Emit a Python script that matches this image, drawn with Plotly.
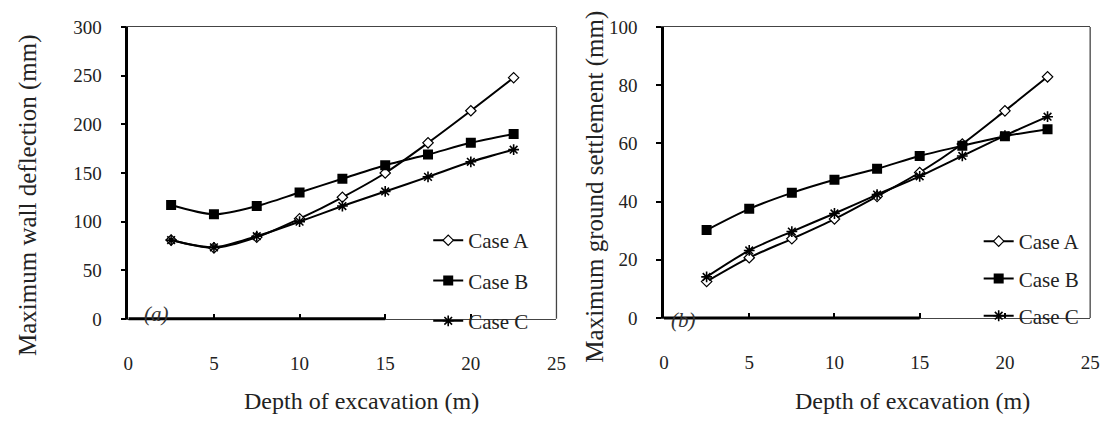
import plotly.graph_objects as go

depth = [2.5, 5, 7.5, 10, 12.5, 15, 17.5, 20, 22.5]

wall_A = [81, 73, 84, 103, 125, 150, 181, 214, 248]
wall_B = [117, 107.5, 116, 130, 144, 158, 169, 181, 190]
wall_C = [81, 73.5, 85, 100, 116, 131, 146, 161.5, 174]

settle_A = [12.5, 20.7, 27.2, 34, 41.8, 50, 59.8, 71.2, 82.9]
settle_B = [30.2, 37.5, 43, 47.5, 51.3, 55.7, 59.2, 62.5, 64.9]
settle_C = [14.1, 23.2, 29.7, 35.9, 42.4, 48.7, 55.7, 62.7, 69.2]

case_names = ["Case A", "Case B", "Case C"]
x_ticks = [0, 5, 10, 15, 20, 25]
wall_ticks = [0, 50, 100, 150, 200, 250, 300]
settle_ticks = [0, 20, 40, 60, 80, 100]

W, H = 1112, 423
FONT = "Liberation Serif"
TXT = "#222"

def px(x):
    return x / W

def py(y):
    return 1 - y / H

markers = [
    dict(symbol="diamond", size=8, color="white", line=dict(color="black", width=1.2)),
    dict(symbol="square", size=10, color="black", line=dict(color="black", width=0)),
    dict(symbol="asterisk-open", size=9, color="black", line=dict(color="black", width=1.6)),
]

fig = go.Figure()

for i, (name, ys) in enumerate(zip(case_names, [wall_A, wall_B, wall_C])):
    fig.add_trace(go.Scatter(
        x=depth, y=ys, name=name, mode="lines+markers",
        line=dict(color="black", width=2, shape="spline", smoothing=0.8),
        marker=markers[i], xaxis="x", yaxis="y", legend="legend",
        legendgroup="a" + name,
    ))
for i, (name, ys) in enumerate(zip(case_names, [settle_A, settle_B, settle_C])):
    fig.add_trace(go.Scatter(
        x=depth, y=ys, name=name, mode="lines+markers",
        line=dict(color="black", width=2, shape="spline", smoothing=0.8),
        marker=markers[i], xaxis="x2", yaxis="y2", legend="legend2",
        legendgroup="b" + name,
    ))

xcommon = dict(
    range=[0, 25], tickvals=x_ticks, ticks="inside", ticklen=5, tickwidth=1.5,
    tickcolor="black", showline=True, linecolor="#444", linewidth=1.3, mirror=True,
    showgrid=False, zeroline=False, tickfont=dict(family=FONT, size=19, color=TXT),
    ticklabelstandoff=27,
)
ycommon = dict(
    ticks="outside", ticklen=5, tickwidth=1.5, tickcolor="black",
    showline=True, linecolor="black", linewidth=2.5, mirror=False,
    showgrid=False, zeroline=False, tickfont=dict(family=FONT, size=19, color=TXT),
    ticklabelstandoff=15,
)

fig.update_layout(
    width=W, height=H, autosize=False,
    margin=dict(l=0, r=0, t=0, b=0),
    paper_bgcolor="white", plot_bgcolor="white",
    font=dict(family=FONT, color=TXT),
    xaxis=dict(domain=[px(125), px(559)], anchor="y", **xcommon),
    yaxis=dict(domain=[py(325), py(18)], anchor="x", range=[0, 300], tickvals=wall_ticks, **ycommon),
    xaxis2=dict(domain=[px(668), px(1100)], anchor="y2", **xcommon),
    yaxis2=dict(domain=[py(324), py(18)], anchor="x2", range=[0, 100], tickvals=settle_ticks, **ycommon),
    legend=dict(x=px(429), y=py(221), xanchor="left", yanchor="top",
                bgcolor="rgba(0,0,0,0)", borderwidth=0, tracegroupgap=10,
                font=dict(family=FONT, size=21, color=TXT), itemwidth=30),
    legend2=dict(x=px(987), y=py(222), xanchor="left", yanchor="top",
                 bgcolor="rgba(0,0,0,0)", borderwidth=0, tracegroupgap=7,
                 font=dict(family=FONT, size=21, color=TXT), itemwidth=30),
    showlegend=True,
)

shapes = []
for xr, yr in [("x", "y"), ("x2", "y2")]:
    shapes.append(dict(type="line", xref=xr, yref=yr + " domain", x0=0, x1=15, y0=0, y1=0,
                       line=dict(color="black", width=3)))
    shapes.append(dict(type="line", xref=xr + " domain", yref=yr + " domain", x0=1, x1=1, y0=0, y1=1,
                       line=dict(color="#444", width=1.3)))
fig.update_layout(shapes=shapes)

ann = []
ann.append(dict(text="Depth of excavation (m)", x=px(361), y=py(411), xref="paper", yref="paper",
                showarrow=False, xanchor="center", yanchor="middle",
                font=dict(family=FONT, size=24, color=TXT)))
ann.append(dict(text="Depth of excavation (m)", x=px(920), y=py(411), xref="paper", yref="paper",
                showarrow=False, xanchor="center", yanchor="middle",
                font=dict(family=FONT, size=24, color=TXT)))
ann.append(dict(text="Maximum wall deflection (mm)", x=px(24), y=py(195), xref="paper", yref="paper",
                showarrow=False, textangle=-90, xanchor="center", yanchor="middle",
                font=dict(family=FONT, size=25, color=TXT)))
ann.append(dict(text="Maximum ground settlement (mm)", x=px(598), y=py(186), xref="paper", yref="paper",
                showarrow=False, textangle=-90, xanchor="center", yanchor="middle",
                font=dict(family=FONT, size=25, color=TXT)))
ann.append(dict(text="<i>(a)</i>", x=px(154), y=py(320), xref="paper", yref="paper",
                showarrow=False, xanchor="center", yanchor="middle",
                font=dict(family=FONT, size=21, color="#333")))
ann.append(dict(text="<i>(b)</i>", x=px(688), y=py(326), xref="paper", yref="paper",
                showarrow=False, xanchor="center", yanchor="middle",
                font=dict(family=FONT, size=21, color="#333")))
fig.update_layout(annotations=ann)

fig.write_html("out.html")
